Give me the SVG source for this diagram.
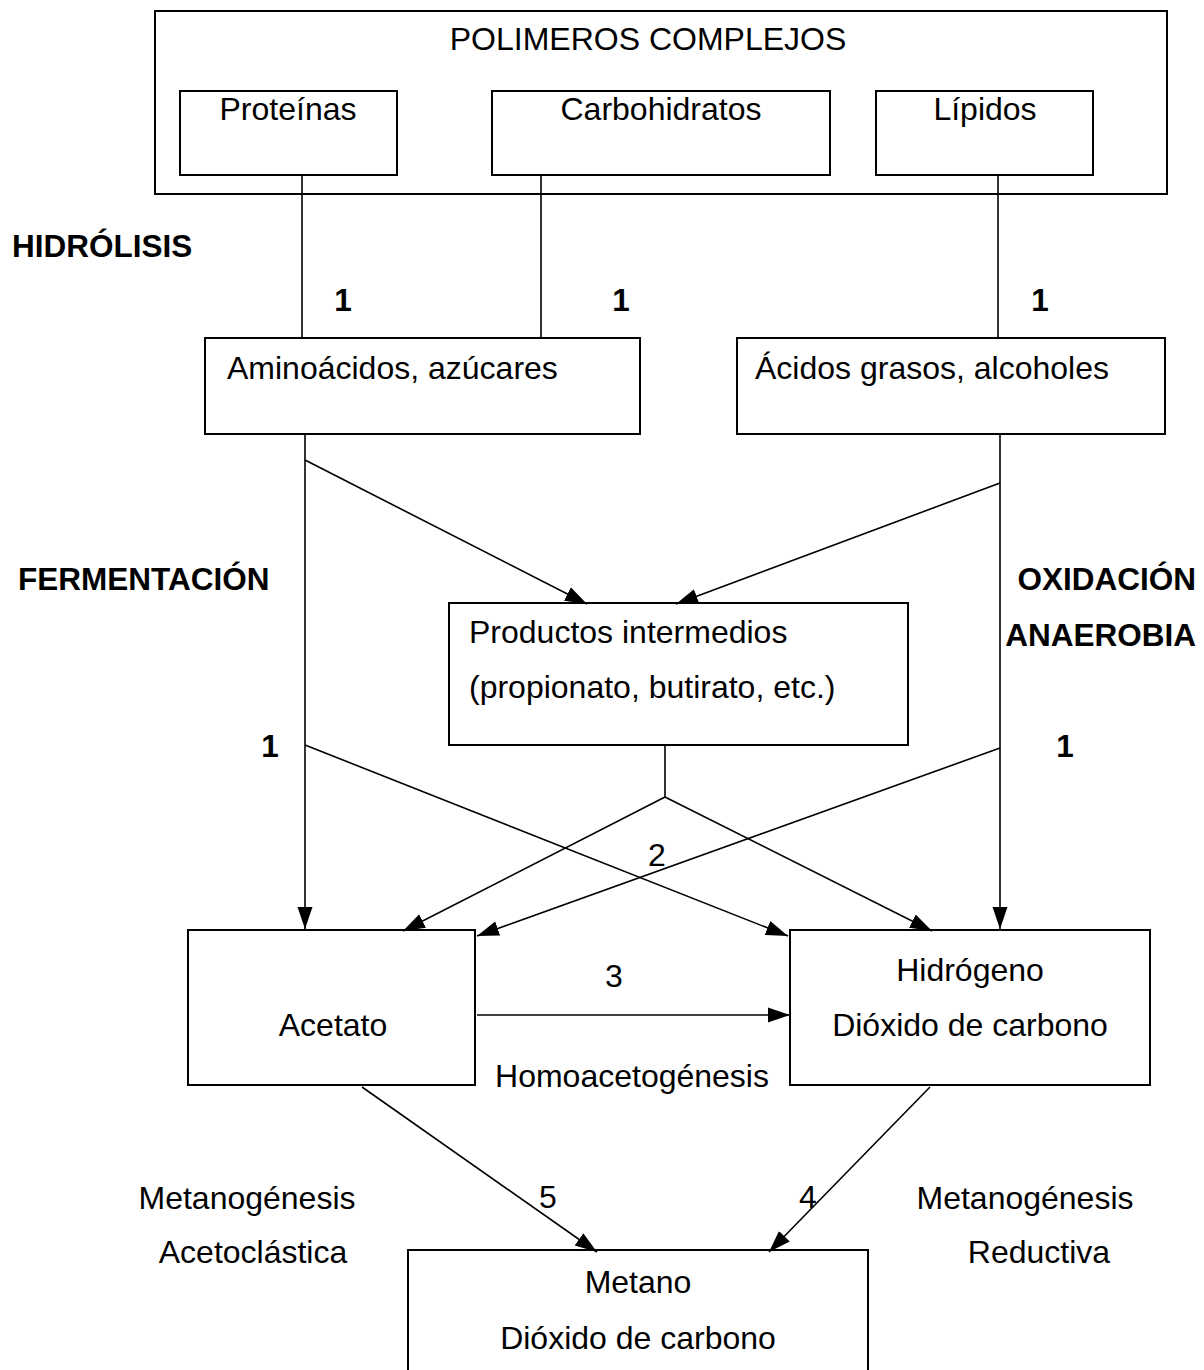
<svg xmlns="http://www.w3.org/2000/svg" width="1204" height="1370" viewBox="0 0 1204 1370">
<style>
.box{fill:none;stroke:#000;stroke-width:2}
.t{font-family:"Liberation Sans",Arial,sans-serif;font-size:32px;fill:#000}
.b{font-family:"Liberation Sans",Arial,sans-serif;font-size:31.5px;font-weight:bold;fill:#000}
.c{text-anchor:middle}
.ln{fill:none;stroke:#000;stroke-width:1.6}
.ar{fill:none;stroke:#000;stroke-width:1.6;marker-end:url(#ah)}
</style>
<defs>
<marker id="ah" markerUnits="userSpaceOnUse" markerWidth="24" markerHeight="18" refX="22" refY="9" orient="auto" viewBox="0 0 24 18">
<path d="M0,1.5 L22,9 L0,16.5 Z" fill="#000"/>
</marker>
</defs>
<rect width="1204" height="1370" fill="#fff"/>

<g id="polimeros">
<rect class="box" x="155" y="11" width="1012" height="183"/>
<text class="t c" x="648" y="50">POLIMEROS COMPLEJOS</text>
</g>
<g id="proteinas">
<rect class="box" x="180" y="91" width="217" height="84"/>
<text class="t c" x="288" y="120">Proteínas</text>
</g>
<g id="carbohidratos">
<rect class="box" x="492" y="91" width="338" height="84"/>
<text class="t c" x="661" y="120">Carbohidratos</text>
</g>
<g id="lipidos">
<rect class="box" x="876" y="91" width="217" height="84"/>
<text class="t c" x="985" y="120">Lípidos</text>
</g>
<g id="aminoacidos">
<rect class="box" x="205" y="338" width="435" height="96"/>
<text class="t" x="227" y="379">Aminoácidos, azúcares</text>
</g>
<g id="acidos">
<rect class="box" x="737" y="338" width="428" height="96"/>
<text class="t" x="755" y="379">Ácidos grasos, alcoholes</text>
</g>
<g id="productos">
<rect class="box" x="449" y="603" width="459" height="142"/>
<text class="t" x="469" y="643">Productos intermedios</text>
<text class="t" x="469" y="698">(propionato, butirato, etc.)</text>
</g>
<g id="acetato">
<rect class="box" x="188" y="930" width="287" height="155"/>
<text class="t c" x="333" y="1036">Acetato</text>
</g>
<g id="hidrogeno">
<rect class="box" x="790" y="930" width="360" height="155"/>
<text class="t c" x="970" y="981">Hidrógeno</text>
<text class="t c" x="970" y="1036">Dióxido de carbono</text>
</g>
<g id="metano">
<rect class="box" x="408" y="1250" width="460" height="130"/>
<text class="t c" x="638" y="1293">Metano</text>
<text class="t c" x="638" y="1349">Dióxido de carbono</text>
</g>

<g id="connectors">
<line class="ln" x1="302" y1="175" x2="302" y2="338"/>
<line class="ln" x1="541" y1="175" x2="541" y2="338"/>
<line class="ln" x1="998" y1="175" x2="998" y2="338"/>
<line class="ar" x1="305" y1="434" x2="305" y2="929"/>
<line class="ar" x1="1000" y1="434" x2="1000" y2="929"/>
<line class="ar" x1="305" y1="460" x2="587" y2="604"/>
<line class="ar" x1="1000" y1="483" x2="676" y2="604"/>
<polyline class="ln" points="665,745 665,797"/>
<line class="ar" x1="665" y1="797" x2="403" y2="931"/>
<line class="ar" x1="665" y1="797" x2="932" y2="931"/>
<line class="ar" x1="305" y1="745" x2="788" y2="936"/>
<line class="ar" x1="1000" y1="748" x2="477" y2="936"/>
<line class="ar" x1="477" y1="1015" x2="790" y2="1015"/>
<line class="ar" x1="362" y1="1087" x2="597" y2="1252"/>
<line class="ar" x1="930" y1="1087" x2="769" y2="1252"/>
</g>

<g id="labels">
<text class="b" x="12" y="257">HIDRÓLISIS</text>
<text class="b c" x="343" y="311">1</text>
<text class="b c" x="621" y="311">1</text>
<text class="b c" x="1040" y="311">1</text>
<text class="b" x="18" y="590">FERMENTACIÓN</text>
<text class="b" x="1196" y="590" text-anchor="end">OXIDACIÓN</text>
<text class="b" x="1196" y="646" text-anchor="end">ANAEROBIA</text>
<text class="b c" x="270" y="757">1</text>
<text class="b c" x="1065" y="757">1</text>
<text class="t c" x="657" y="866">2</text>
<text class="t c" x="614" y="987">3</text>
<text class="t c" x="632" y="1087">Homoacetogénesis</text>
<text class="t c" x="548" y="1208">5</text>
<text class="t c" x="808" y="1208">4</text>
<text class="t c" x="247" y="1209">Metanogénesis</text>
<text class="t c" x="253" y="1263">Acetoclástica</text>
<text class="t c" x="1025" y="1209">Metanogénesis</text>
<text class="t c" x="1039" y="1263">Reductiva</text>
</g>
</svg>
